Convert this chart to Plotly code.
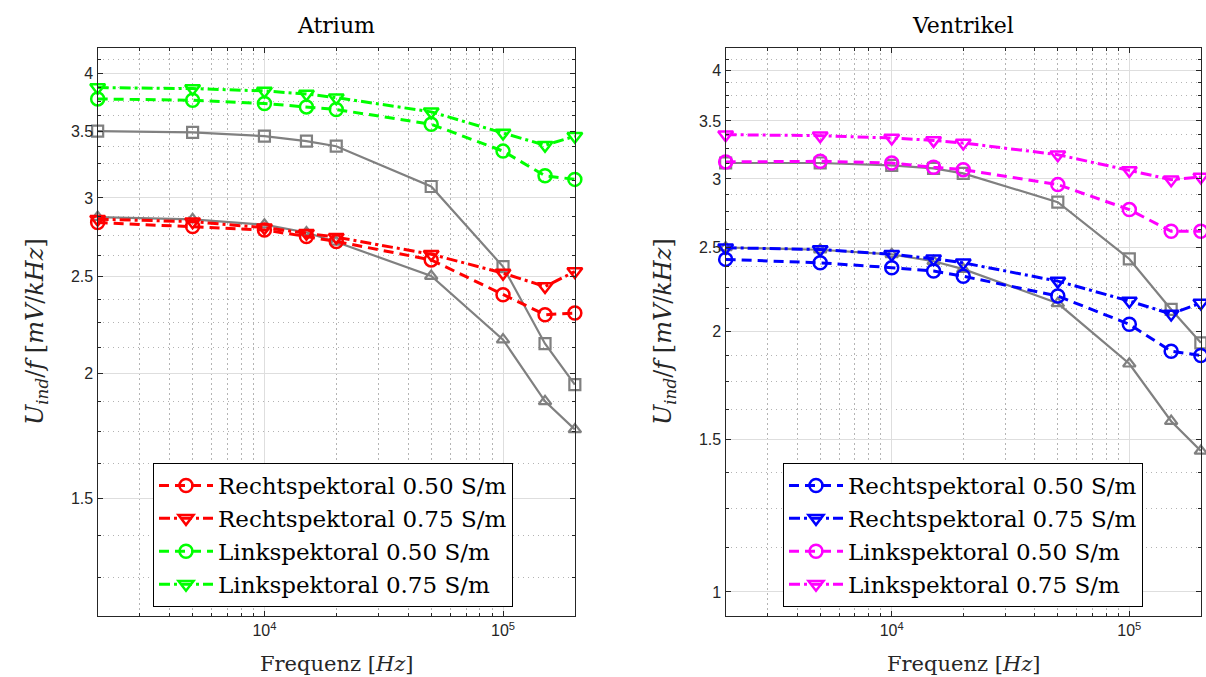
import plotly.graph_objects as go
import numpy as np

# ---------------- data ----------------
freq = [2000, 5000, 10000, 15000, 20000, 50000, 100000, 150000, 200000]

# Atrium
atr_ref_sq = [3.50, 3.49, 3.46, 3.42, 3.38, 3.08, 2.56, 2.143, 1.95]
atr_ref_tri = [2.87, 2.855, 2.82, 2.77, 2.71, 2.505, 2.163, 1.876, 1.758]
atr_re_050 = [2.834, 2.808, 2.786, 2.744, 2.713, 2.600, 2.399, 2.291, 2.300]
atr_re_075 = [2.856, 2.840, 2.801, 2.765, 2.740, 2.634, 2.522, 2.445, 2.531]
atr_li_050 = [3.770, 3.758, 3.730, 3.701, 3.679, 3.556, 3.342, 3.157, 3.131]
atr_li_075 = [3.870, 3.861, 3.840, 3.813, 3.781, 3.659, 3.485, 3.388, 3.459]

# Ventrikel
ven_ref_sq = [3.13, 3.13, 3.11, 3.085, 3.045, 2.82, 2.425, 2.12, 1.94]
ven_ref_tri = [2.50, 2.485, 2.455, 2.41, 2.36, 2.155, 1.835, 1.575, 1.455]
ven_re_050 = [2.422, 2.400, 2.369, 2.348, 2.316, 2.197, 2.038, 1.897, 1.876]
ven_re_075 = [2.498, 2.487, 2.455, 2.426, 2.400, 2.286, 2.168, 2.095, 2.157]
ven_li_050 = [3.139, 3.144, 3.130, 3.094, 3.075, 2.955, 2.765, 2.610, 2.610]
ven_li_075 = [3.375, 3.366, 3.345, 3.324, 3.301, 3.200, 3.069, 2.994, 3.016]

names = ["Rechtspektoral 0.50 S/m", "Rechtspektoral 0.75 S/m",
         "Linkspektoral 0.50 S/m", "Linkspektoral 0.75 S/m"]
titles = ["Atrium", "Ventrikel"]

left_yticks = [1.5, 2, 2.5, 3, 3.5, 4]
right_yticks = [1, 1.5, 2, 2.5, 3, 3.5, 4]

# ---------------- styling ----------------
SERIF = "DejaVu Serif"
SANS = "Liberation Sans"
GRAY = "#808080"
AX = "#262626"
DASH = "10px,6px"
DASHDOT = "11px,4px,3px,4px"
MINOR_DASH = "1.5px,3.5px"

W, H = 1206, 677


def px(x):
    return x / W


def py(y):
    return 1 - y / H


fig = go.Figure()


def add_gray(y, sym, xa, ya):
    fig.add_trace(go.Scatter(
        x=freq, y=y, mode="lines+markers", xaxis=xa, yaxis=ya,
        line=dict(color=GRAY, width=2.2),
        marker=dict(symbol=sym, size=11, color=GRAY,
                    line=dict(color=GRAY, width=2.2)),
        showlegend=False, cliponaxis=False, hoverinfo="skip"))


def add_series(y, name, color, dash, sym, xa, ya, legend):
    fig.add_trace(go.Scatter(
        x=freq, y=y, mode="lines+markers", name=name, xaxis=xa, yaxis=ya,
        line=dict(color=color, width=3, dash=dash),
        marker=dict(symbol=sym, size=13, color=color,
                    line=dict(color=color, width=2.5)),
        legend=legend, cliponaxis=False))


# Atrium
add_gray(atr_ref_sq, "square-open", "x", "y")
add_gray(atr_ref_tri, "triangle-up-open", "x", "y")
add_series(atr_re_050, names[0], "#FF0000", DASH, "circle-open", "x", "y", "legend")
add_series(atr_re_075, names[1], "#FF0000", DASHDOT, "triangle-down-open", "x", "y", "legend")
add_series(atr_li_050, names[2], "#00FF00", DASH, "circle-open", "x", "y", "legend")
add_series(atr_li_075, names[3], "#00FF00", DASHDOT, "triangle-down-open", "x", "y", "legend")

# Ventrikel
add_gray(ven_ref_sq, "square-open", "x2", "y2")
add_gray(ven_ref_tri, "triangle-up-open", "x2", "y2")
add_series(ven_re_050, names[0], "#0000FF", DASH, "circle-open", "x2", "y2", "legend2")
add_series(ven_re_075, names[1], "#0000FF", DASHDOT, "triangle-down-open", "x2", "y2", "legend2")
add_series(ven_li_050, names[2], "#FF00FF", DASH, "circle-open", "x2", "y2", "legend2")
add_series(ven_li_075, names[3], "#FF00FF", DASHDOT, "triangle-down-open", "x2", "y2", "legend2")

x_minor = [v * 10 ** e for e in (3, 4) for v in range(2, 10)] + [200000]


def y_minor(lo, hi):
    vals = np.arange(0.875, 4.5, 0.125)
    return [float(v) for v in vals if lo <= v <= hi]


def xaxis(domain, anchor):
    return dict(
        type="log", domain=domain, anchor=anchor,
        range=[np.log10(1997), np.log10(200300)],
        tickvals=[1e4, 1e5], ticktext=["10<sup>4</sup>", "10<sup>5</sup>"],
        ticks="inside", ticklen=5, tickcolor=AX, tickwidth=1,
        showline=True, linecolor=AX, linewidth=1.2, mirror="allticks",
        showgrid=True, gridcolor="#dedede", gridwidth=1,
        tickfont=dict(family=SANS, size=16, color=AX),
        minor=dict(tickvals=x_minor, ticks="inside", ticklen=3, tickcolor=AX,
                   showgrid=True, gridcolor="#b4b4b4", griddash=MINOR_DASH,
                   gridwidth=1),
        zeroline=False,
    )


def yaxis(domain, anchor, rng, ticks):
    return dict(
        type="log", domain=domain, anchor=anchor,
        range=[np.log10(rng[0]), np.log10(rng[1])],
        tickvals=ticks, ticktext=[("%g" % t) for t in ticks],
        ticks="inside", ticklen=5, tickcolor=AX, tickwidth=1,
        showline=True, linecolor=AX, linewidth=1.2, mirror="allticks",
        showgrid=True, gridcolor="#dedede", gridwidth=1,
        tickfont=dict(family=SANS, size=16, color=AX),
        minor=dict(tickvals=y_minor(rng[0], rng[1]), ticks="inside", ticklen=3,
                   tickcolor=AX, showgrid=True, gridcolor="#b4b4b4",
                   griddash=MINOR_DASH, gridwidth=1),
        zeroline=False,
    )


ydom = [py(616), py(48)]
x1dom = [px(97.5), px(575)]
x2dom = [px(725.5), px(1201)]

legend_common = dict(
    bgcolor="white", bordercolor="#000000", borderwidth=1,
    font=dict(family=SERIF, size=23, color="#000000"),
    itemwidth=54, tracegroupgap=0, xanchor="left", yanchor="top",
    xref="paper", yref="paper",
)

fig.update_layout(
    width=W, height=H, margin=dict(l=0, r=0, t=0, b=0),
    paper_bgcolor="white", plot_bgcolor="white",
    xaxis=xaxis(x1dom, "y"),
    yaxis=yaxis(ydom, "x", (1.143, 4.24), left_yticks),
    xaxis2=xaxis(x2dom, "y2"),
    yaxis2=yaxis(ydom, "x2", (0.938, 4.25), right_yticks),
    legend=dict(x=px(153), y=py(463), **legend_common),
    legend2=dict(x=px(783), y=py(463), **legend_common),
    showlegend=True,
)

ylab = "<i>U</i><sub><i>ind</i></sub>/<i>f</i> [<i>mV</i>/<i>kHz</i>]"
xlab = "Frequenz [<i>Hz</i>]"
for cx, tx, lx in [(336, titles[0], 36), (963, titles[1], 664)]:
    fig.add_annotation(x=px(cx), y=py(25), xref="paper", yref="paper",
                       xanchor="center", yanchor="middle",
                       text=tx, showarrow=False,
                       font=dict(family=SERIF, size=22, color="#000000"))
    fig.add_annotation(x=px(cx), y=py(664), xref="paper", yref="paper",
                       xanchor="center", yanchor="middle",
                       text=xlab, showarrow=False,
                       font=dict(family=SERIF, size=21, color=AX))
    fig.add_annotation(x=px(lx), y=py(332), xref="paper", yref="paper",
                       xanchor="center", yanchor="middle",
                       text=ylab, showarrow=False, textangle=-90,
                       font=dict(family=SERIF, size=24, color=AX))

fig.write_html(
    "out.html",
    config={"displayModeBar": False},
    post_script="document.body.style.margin='0px';"
                "document.body.style.overflow='hidden';",
)
